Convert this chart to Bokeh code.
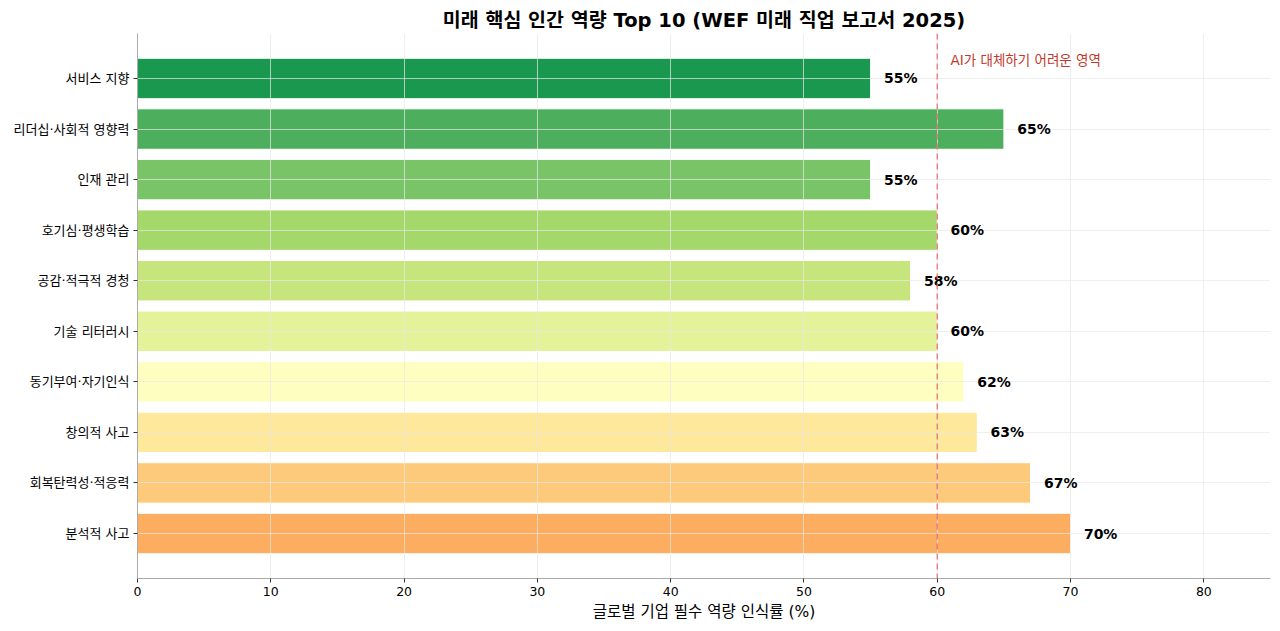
from bokeh.plotting import figure
from bokeh.models import FactorRange, Range1d, Span, ColumnDataSource, FixedTicker
from bokeh.core.properties import value
from bokeh.embed import file_html
from bokeh.resources import INLINE

# data (bottom to top)
skills = ["분석적 사고", "회복탄력성·적응력", "창의적 사고", "동기부여·자기인식", "기술 리터러시",
          "공감·적극적 경청", "호기심·평생학습", "인재 관리", "리더십·사회적 영향력", "서비스 지향"]
rates = [70, 67, 63, 62, 60, 58, 60, 55, 65, 55]
colors = ["#fdad60", "#fdc97a", "#fee89b", "#fefec0", "#e4f29a",
          "#c6e67d", "#a5d86b", "#79c466", "#4daf5d", "#1a9850"]
threshold = 60
threshold_label = "AI가 대체하기 어려운 영역"
x_ticks = [0, 10, 20, 30, 40, 50, 60, 70, 80]

FONT = "DejaVu Sans, Noto Sans CJK KR"

src = ColumnDataSource(dict(
    skill=skills, rate=rates, color=colors,
    label=[f"{r}%" for r in rates],
    lx=[r + 1 for r in rates],
))

p = figure(width=1272, height=623, output_backend="svg", toolbar_location=None,
           y_range=FactorRange(factors=skills, range_padding=0.078, range_padding_units="percent"),
           x_range=Range1d(0, 85),
           title="미래 핵심 인간 역량 Top 10 (WEF 미래 직업 보고서 2025)",
           min_border_left=137, min_border_right=2, min_border_top=33, min_border_bottom=44)

p.title.text_font = FONT
p.title.text_font_size = "19.5px"
p.title.text_font_style = "bold"
p.title.text_color = "black"
p.title.align = "center"
p.title.offset = 0
p.title.standoff = 3

bars = p.hbar(y="skill", right="rate", left=0, height=0.8, color="color", fill_alpha=1.0,
              line_color="white", line_width=1, source=src)
bars.level = "image"

p.add_layout(Span(location=threshold, dimension="height", line_color="#e87070",
                  line_alpha=0.85, line_width=1.5, line_dash="6 4", level="glyph"))

p.text(x="lx", y="skill", text="label", source=src, text_font=value(FONT),
       text_font_size="14px", text_font_style="bold", text_color="black",
       text_baseline="middle", text_align="left")

p.text(x=[threshold + 1], y=[(skills[-1], 0.37)], text=[threshold_label],
       text_font=value(FONT), text_font_size="13.5px", text_color="#c0392b",
       text_baseline="middle", text_align="left")

p.outline_line_color = None
for ax in (p.xaxis, p.yaxis):
    ax.axis_line_color = "#aaaaaa"
    ax.major_tick_line_color = "#333333"
    ax.major_tick_out = 4
    ax.major_tick_in = 0
    ax.minor_tick_line_color = None
    ax.major_label_text_font = FONT
    ax.major_label_text_color = "black"
p.xaxis.major_label_text_font_size = "12.5px"
p.yaxis.major_label_text_font_size = "13px"
p.xaxis.ticker = FixedTicker(ticks=x_ticks)
p.xaxis.axis_label = "글로벌 기업 필수 역량 인식률 (%)"
p.xaxis.axis_label_text_font = FONT
p.xaxis.axis_label_text_font_size = "15.5px"
p.xaxis.axis_label_text_font_style = "normal"
p.xaxis.axis_label_text_color = "black"
p.xaxis.axis_label_standoff = 4
p.xaxis.major_label_standoff = 4
p.yaxis.major_label_standoff = 4

for g in (p.xgrid, p.ygrid):
    g.grid_line_color = "#e8e8e8"
    g.grid_line_alpha = 0.7

open("out.html", "w").write(file_html(p, INLINE))
